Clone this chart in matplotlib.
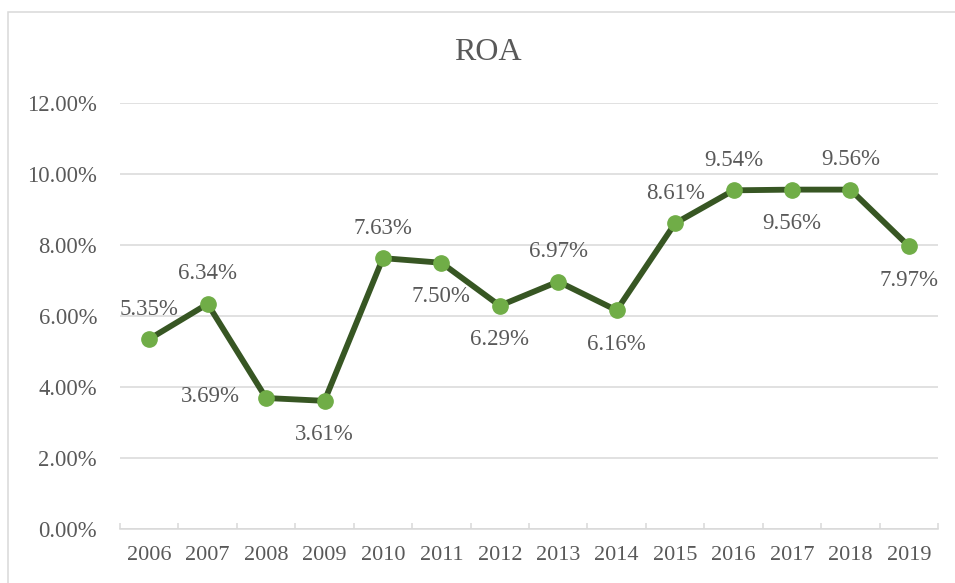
import matplotlib.pyplot as plt
from matplotlib.patches import Rectangle
from matplotlib.ticker import PercentFormatter

# ROA by year
years = ['2006', '2007', '2008', '2009', '2010', '2011', '2012',
         '2013', '2014', '2015', '2016', '2017', '2018', '2019']
roa = [5.35, 6.34, 3.69, 3.61, 7.63, 7.50, 6.29,
       6.97, 6.16, 8.61, 9.54, 9.56, 9.56, 7.97]
label_pos = ['above', 'above', 'left', 'below', 'above', 'below', 'below',
             'above', 'below', 'above', 'above', 'below', 'above', 'below']

plt.rcParams['font.family'] = ['Liberation Serif', 'DejaVu Serif']
text_col = '#595959'
grid_col = '#D9D9D9'

fig = plt.figure(figsize=(9.55, 5.83), dpi=100)
ax = fig.add_axes([120 / 955, 54 / 583, 818 / 955, 426 / 583])

x = list(range(len(years)))
ax.plot(x, roa, color='#375623', lw=4.2, marker='o', markersize=11,
        markerfacecolor='#70AD47', markeredgecolor='#70AD47', zorder=3)

offsets = {'above': (0, 21.6), 'below': (0, -24.5), 'left': (-19, 1)}
for xi, v, p in zip(x, roa, label_pos):
    ha = 'right' if p == 'left' else 'center'
    ax.annotate(f'{v:.2f}%', (xi, v), xytext=offsets[p], textcoords='offset points',
                ha=ha, va='center', fontsize=16.5, color=text_col)

ax.set_xlim(-0.5, len(years) - 0.5)
ax.set_ylim(0, 12)
ax.set_yticks(range(0, 13, 2))
ax.yaxis.set_major_formatter(PercentFormatter(decimals=2))
ax.set_xticks(x)
ax.set_xticklabels(years)
ax.set_xticks([i - 0.5 for i in range(len(years) + 1)], minor=True)

ax.tick_params(axis='x', which='major', length=0, pad=12, labelsize=16, labelcolor=text_col)
ax.tick_params(axis='x', which='minor', direction='in', length=4.5, width=1.1, color=grid_col)
ax.tick_params(axis='y', length=0, pad=16.5, labelsize=16.3, labelcolor=text_col)

ax.grid(axis='y', color=grid_col, lw=1.1)
ax.set_axisbelow(True)
for s in ['top', 'right', 'left']:
    ax.spines[s].set_visible(False)
ax.spines['bottom'].set_color(grid_col)
ax.spines['bottom'].set_linewidth(1.1)
ax.spines['bottom'].set_zorder(1)

fig.text(0.5 + 10 / 955, 1 - 52 / 583, 'ROA', ha='center', va='center', fontsize=23, color=text_col)

# chart border
fig.patches.append(Rectangle((8 / 955, -0.1), 1.2, 1.1 - 12 / 583, transform=fig.transFigure,
                             fill=False, edgecolor=grid_col, lw=1.1))

fig.savefig('out.png', dpi=100)
